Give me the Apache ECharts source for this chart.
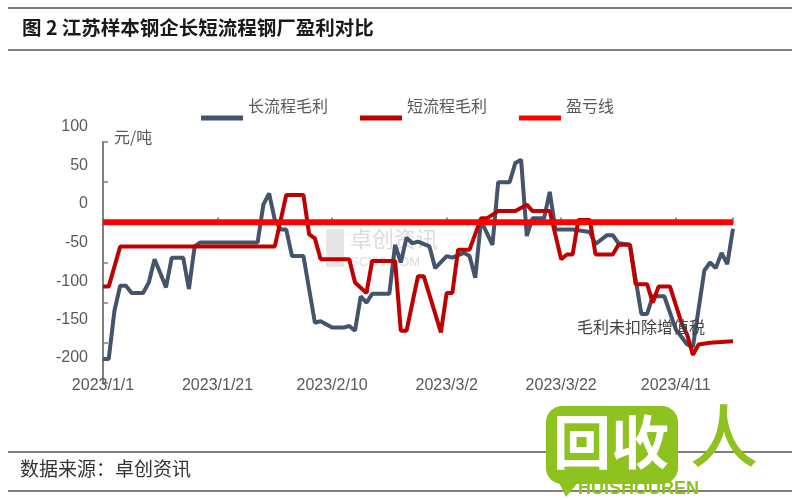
<!DOCTYPE html>
<html><head><meta charset="utf-8">
<script src="https://cdn.jsdelivr.net/npm/echarts@6/dist/echarts.min.js"></script>
<style>html,body{margin:0;padding:0;background:#fff}#c{width:800px;height:500px}</style>
</head><body><div id="c"></div>
<script>
// ---- data ----
const xTickLabels = ['2023/1/1','2023/1/21','2023/2/10','2023/3/2','2023/3/22','2023/4/11'];
const yTickValues = [100,50,0,-50,-100,-150,-200];
const seriesNames = ['长流程毛利','短流程毛利','盈亏线'];

const longDates = ['1/1','1/2','1/3','1/4','1/5','1/6','1/8','1/9','1/10','1/11','1/12','1/13','1/15','1/16','1/17','1/18','1/28','1/29','1/30','1/31','2/1','2/2','2/3','2/5','2/7','2/8','2/10','2/12','2/13','2/14','2/15','2/16','2/17','2/20','2/21','2/22','2/23','2/24','2/25','2/27','2/28','3/2','3/3','3/5','3/6','3/7','3/8','3/10','3/11','3/13','3/14','3/15','3/16','3/17','3/19','3/20','3/21','3/24','3/27','3/28','3/30','3/31','4/1','4/3','4/5','4/6','4/7','4/9','4/11','4/13','4/14','4/16','4/17','4/18','4/19','4/20','4/21'];
const longValues = [-170,-170,-110,-79,-79,-88,-88,-75,-46,-63,-81,-44,-44,-83,-30,-25,-25,22,36,3,-9,-9,-42,-42,-125,-123,-131,-131,-129,-135,-92,-100,-89,-89,-28,-50,-19,-26,-24,-30,-57,-42,-44,-38,-42,-69,2,-28,50,50,74,78,-17,5,5,38,-9,-9,-12,-27,-16,-16,-26,-28,-114,-114,-92,-92,-133,-152,-155,-60,-50,-57,-38,-52,-8];

const shortDates = ['1/1','1/2','1/4','1/31','2/2','2/5','2/6','2/7','2/8','2/13','2/14','2/16','2/17','2/21','2/22','2/23','2/25','2/26','3/1','3/2','3/3','3/4','3/6','3/8','3/9','3/11','3/14','3/16','3/17','3/20','3/22','3/23','3/24','3/25','3/27','3/28','3/31','4/1','4/3','4/4','4/6','4/7','4/8','4/10','4/12','4/13','4/14','4/15','4/17','4/19','4/21'];
const shortValues = [-80,-80,-30,-30,34,34,-15,-20,-46,-46,-75,-88,-48,-48,-135,-135,-67,-67,-137,-88,-88,-34,-34,5,5,14,14,22,14,14,-46,-40,-40,3,3,-40,-40,-28,-28,-77,-77,-100,-80,-80,-125,-140,-165,-152,-150,-149,-148];

const breakEvenDates = ['1/1','4/21'];
const breakEvenValues = [0,0];

// ---- helpers ----
const BASE = Date.UTC(2023,0,1);
function dayIndex(md){ const p = md.split('/').map(Number); return (Date.UTC(2023,p[0]-1,p[1]) - BASE)/86400000; }
function pairs(dates, vals){ return dates.map((d,i)=>[dayIndex(d), vals[i]]); }
function dayLabel(v){ const d = new Date(BASE + v*86400000); return '2023/' + (d.getUTCMonth()+1) + '/' + d.getUTCDate(); }
const xMax = dayIndex(breakEvenDates[breakEvenDates.length-1]);

// y labels in the reference sit above their ticks (more so toward the bottom)
const yRich = {};
yTickValues.forEach((v,i)=>{
  const shift = 15 + i*10/6;
  yRich['p'+i] = {padding:[0,0,Math.round(shift*2),0], fontFamily:'"Liberation Sans", sans-serif', fontSize:16, color:'#595959'};
});

const CJK = '"Noto Sans CJK SC", sans-serif';
const chart = echarts.init(document.getElementById('c'), null, {renderer:'canvas'});
chart.setOption({
  animation:false,
  backgroundColor:'#fff',
  grid:{left:103, right:800-733, top:142, bottom:500-383, containLabel:false},
  legend:{
    data:seriesNames, left:196, top:93, icon:'rect', itemWidth:42, itemHeight:5, itemGap:32,
    formatter:n=>'{a|'+n+'}',
    textStyle:{fontFamily:CJK, fontSize:16, color:'#595959',
      rich:{a:{fontFamily:CJK, fontSize:16, color:'#595959', padding:[0,0,24,0]}}}
  },
  xAxis:{
    type:'value', min:0, max:xMax, interval:20,
    splitLine:{show:false},
    axisLine:{lineStyle:{color:'#7f7f7f', width:2}},
    axisTick:{show:true, inside:true, length:5, lineStyle:{color:'#7f7f7f', width:1.5}},
    axisLabel:{margin:-5, fontFamily:'"Liberation Sans", sans-serif', fontSize:16, color:'#595959',
      formatter:v=>{ const s = dayLabel(v); return xTickLabels.indexOf(s) >= 0 ? s : ''; }}
  },
  yAxis:{
    type:'value', min:-200, max:100, interval:50,
    splitLine:{show:false},
    axisLine:{show:true, lineStyle:{color:'#7f7f7f', width:2}},
    axisTick:{show:true, inside:true, length:5, lineStyle:{color:'#7f7f7f', width:1.5}},
    axisLabel:{margin:15, fontFamily:'"Liberation Sans", sans-serif', fontSize:16, color:'#595959',
      formatter:v=>{ const i = yTickValues.indexOf(v); return i >= 0 ? '{p'+i+'|'+v+'}' : ''; },
      rich:yRich}
  },
  series:[
    {name:seriesNames[0], type:'line', data:pairs(longDates,longValues), showSymbol:false, symbol:'none',
      color:'#44546A', lineStyle:{color:'#44546A', width:4}, z:3},
    {name:seriesNames[1], type:'line', data:pairs(shortDates,shortValues), showSymbol:false, symbol:'none',
      color:'#C00000', lineStyle:{color:'#C00000', width:4}, z:4},
    {name:seriesNames[2], type:'line', data:pairs(breakEvenDates,breakEvenValues), showSymbol:false, symbol:'none',
      color:'#FF0000', lineStyle:{color:'#FF0000', width:6}, z:5}
  ],
  graphic:[
    {type:'line', shape:{x1:8,y1:8,x2:792,y2:8}, style:{stroke:'#7f7f7f', lineWidth:2}},
    {type:'line', shape:{x1:8,y1:50,x2:792,y2:50}, style:{stroke:'#7f7f7f', lineWidth:2}},
    {type:'text', left:22, top:18, style:{text:'图 2 江苏样本钢企长短流程钢厂盈利对比', font:'bold 19.5px "Noto Sans CJK SC"', fill:'#1a1a1a'}},
    {type:'text', left:114, top:129, style:{text:'元/吨', font:'16px "Noto Sans CJK SC"', fill:'#595959'}},
    {type:'text', left:577, top:319, z:10, style:{text:'毛利未扣除增值税', font:'16px "Noto Sans CJK SC"', fill:'#404040'}},
    // watermark
    {type:'rect', shape:{x:326,y:229,width:18,height:38}, style:{fill:'#e6e6e6'}, z:0},
    {type:'text', left:350, top:228, z:0, style:{text:'卓创资讯', font:'22px "Noto Sans CJK SC"', fill:'#dcdcdc'}},
    {type:'text', left:350, top:256, z:0, style:{text:'SCI99.COM', font:'13px "Liberation Sans"', fill:'#dcdcdc'}},
    // footer
    {type:'line', shape:{x1:8,y1:452,x2:792,y2:452}, style:{stroke:'#7f7f7f', lineWidth:2}},
    {type:'line', shape:{x1:8,y1:491,x2:792,y2:491}, style:{stroke:'#7f7f7f', lineWidth:2}},
    {type:'text', left:20, top:459, style:{text:'数据来源：卓创资讯', font:'19px "Noto Sans CJK SC"', fill:'#333'}},
    // logo overlay
    {type:'polygon', z:20, shape:{points:[[548,460],[580,480],[566,497]]}, style:{fill:'#8DC21F'}},
    {type:'rect', z:20, shape:{x:546,y:406,width:132,height:78,r:16}, style:{fill:'#8DC21F'}},
    {type:'text', z:21, left:553, top:413, style:{text:'回收', font:'bold 58px "Noto Sans CJK SC"', fill:'#fff'}},
    {type:'text', z:21, left:690, top:402, style:{text:'人', font:'500 68px "Noto Sans CJK SC"', fill:'#8DC21F'}},
    {type:'text', z:21, left:578, top:480, style:{text:'HUISHOUREN', font:'bold 18px "Liberation Sans"', fill:'#8DC21F'}}
  ]
});
</script></body></html>
